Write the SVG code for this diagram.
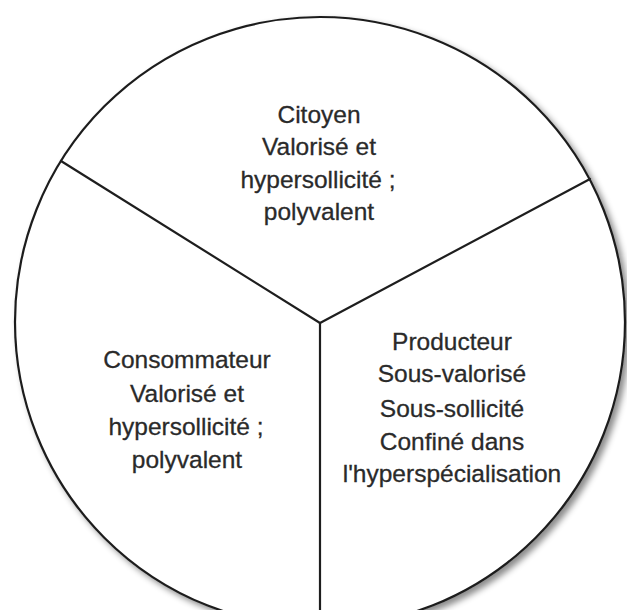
<svg xmlns="http://www.w3.org/2000/svg" width="627" height="610" viewBox="0 0 627 610">
  <style>
    .lbl { font-family: "Liberation Sans", Arial, sans-serif; font-size: 24.5px; fill: #2a2a2a; stroke: #2a2a2a; stroke-width: 0.3; text-anchor: middle; }
    .rim { fill: #ffffff; stroke: #1e1e1e; stroke-width: 2.2; }
    .div { stroke: #1e1e1e; stroke-width: 2.2; fill: none; stroke-linecap: round; }
  </style>
  <defs>
    <filter id="shadow" x="-10%" y="-10%" width="125%" height="125%">
      <feDropShadow dx="4" dy="4" stdDeviation="3" flood-color="#000000" flood-opacity="0.45"/>
    </filter>
  </defs>

  <rect width="627" height="610" fill="#ffffff"/>

  <!-- outer disc -->
  <g id="disc">
    <circle class="rim" cx="320" cy="322" r="305" filter="url(#shadow)"/>
  </g>

  <!-- three dividing radii -->
  <g id="connectors">
    <line class="div" x1="320" y1="323" x2="61" y2="161"/>
    <line class="div" x1="320" y1="323" x2="590" y2="179"/>
    <line class="div" x1="320" y1="323" x2="320" y2="627"/>
  </g>

  <g id="citoyen">
    <text class="lbl" x="319" y="123">Citoyen</text>
    <text class="lbl" x="319" y="155">Valorisé et</text>
    <text class="lbl" x="318" y="188">hypersollicité ;</text>
    <text class="lbl" x="319" y="220">polyvalent</text>
  </g>

  <g id="consommateur">
    <text class="lbl" x="187" y="368">Consommateur</text>
    <text class="lbl" x="187" y="402">Valorisé et</text>
    <text class="lbl" x="186" y="435">hypersollicité ;</text>
    <text class="lbl" x="187" y="468">polyvalent</text>
  </g>

  <g id="producteur">
    <text class="lbl" x="452" y="350">Producteur</text>
    <text class="lbl" x="452" y="382">Sous-valorisé</text>
    <text class="lbl" x="452" y="417">Sous-sollicité</text>
    <text class="lbl" x="452" y="450">Confiné dans</text>
    <text class="lbl" x="452" y="482">l'hyperspécialisation</text>
  </g>
</svg>
